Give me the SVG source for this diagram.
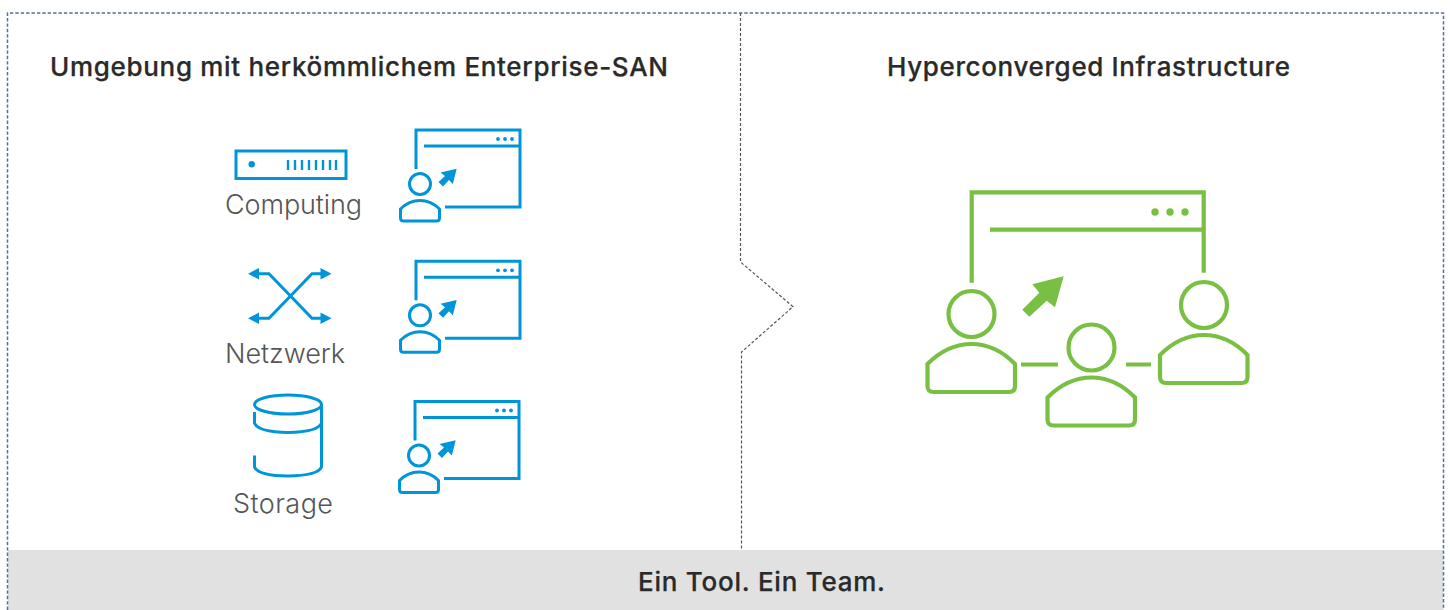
<svg xmlns="http://www.w3.org/2000/svg" width="1450" height="610" viewBox="0 0 1450 610">
<style>
.t{font-family:"Inter","Liberation Sans",sans-serif;font-weight:500;font-size:26px;fill:#2a2a2a;stroke:#2a2a2a;stroke-width:.25}
.l{font-family:"Inter","Liberation Sans",sans-serif;font-weight:300;font-size:27px;fill:#565656}
.b{fill:none;stroke:#0095d9;stroke-width:3}
.bf{fill:#0095d9}
.g{fill:none;stroke:#78bf43;stroke-width:4.200}
.gf{fill:#78bf43}
.f{fill:none;stroke:#4f6fa8;stroke-width:1.500;stroke-dasharray:3.400 2}
.d{fill:none;stroke:#555;stroke-width:1.200;stroke-dasharray:3 2}
</style>
<defs>
<g id="uw">
<path class="b" d="M416 169V130H520V207H445M424 146H520"/>
<circle class="bf" cx="498" cy="139" r="1.900"/><circle class="bf" cx="505" cy="139" r="1.900"/><circle class="bf" cx="512" cy="139" r="1.900"/>
<circle class="b" cx="420" cy="184" r="10.500"/>
<path class="b" d="M400.500 209Q409 200.500 420 200.500T439.500 209V218Q439.500 221 436.500 221H403.500Q400.500 221 400.500 218Z"/>
<polygon class="bf" points="456.700,168.700 452.800,184 449,180 443,186.500 438.500,182 445,176 440.500,172.500"/>
</g>
<g id="p">
<circle class="g" cx="44" cy="-30" r="23"/>
<path class="g" d="M0 20Q20 0 44 0T87.500 20V42Q87.500 48 81.500 48H6Q0 48 0 42Z"/>
</g>
</defs>
<rect x="8" y="550" width="1435" height="60" fill="#e1e1e1"/>
<g id="connectors">
<path class="f" d="M7.500 610V13H1443.500V610"/>
<path class="d" d="M740.500 13V262L793 306.700L741.500 352V550"/>
</g>
<g id="title-left"><text class="t" x="50" y="76" textLength="618">Umgebung mit herkömmlichem Enterprise-SAN</text></g>
<g id="title-right"><text class="t" x="887" y="76" textLength="403">Hyperconverged Infrastructure</text></g>
<g id="footer"><text class="t" x="638" y="591" textLength="247">Ein Tool. Ein Team.</text></g>
<g id="computing">
<rect class="b" x="236" y="151" width="110" height="27.500"/>
<circle class="bf" cx="251.700" cy="164.300" r="3.200"/>
<path class="b" d="M288 160V170M295 160V170M302 160V170M309 160V170M316 160V170M323 160V170M330 160V170M336 160V170" style="stroke-width:2.400"/>
<text class="l" x="225" y="214" textLength="137">Computing</text>
</g>
<g id="computing-user"><use href="#uw"/></g>
<g id="netzwerk">
<path class="b" d="M257 273.700H269L312 318.300H322M257 318.300H269L312 273.700H322"/>
<polygon class="bf" points="248,273.700 259,268 259,279.500"/><polygon class="bf" points="248,318.300 259,312.600 259,324"/>
<polygon class="bf" points="331.500,273.700 320.500,268 320.500,279.500"/><polygon class="bf" points="331.500,318.300 320.500,312.600 320.500,324"/>
<text class="l" x="225" y="363" textLength="120">Netzwerk</text>
</g>
<g id="netzwerk-user"><use href="#uw" y="131.300"/></g>
<g id="storage">
<ellipse class="b" cx="288" cy="404.500" rx="33.500" ry="9.500"/>
<path class="b" d="M254.500 412V423Q258 432 288 432.500Q318 432 321.500 423M321.500 404.500V467Q318 475.500 288 476Q258 475.500 254.500 467V455.500"/>
<text class="l" x="233" y="513" textLength="100">Storage</text>
</g>
<g id="storage-user"><use href="#uw" x="-1" y="271.500"/></g>
<g id="hci">
<path class="g" d="M971.700 282.700V192.300H1203.700V272.700M990 229.700H1203.700"/>
<circle class="gf" cx="1155" cy="212" r="3.700"/><circle class="gf" cx="1170" cy="212" r="3.700"/><circle class="gf" cx="1185" cy="212" r="3.700"/>
<polygon class="gf" points="1063.700,276.300 1055,307.300 1046.700,300.700 1029.300,316.700 1022.300,309.700 1039.300,292.700 1032.300,284.300"/>
<use href="#p" x="927.500" y="344"/>
<use href="#p" x="1047.500" y="377.500"/>
<use href="#p" x="1160" y="335"/>
<path class="g" d="M1021 364.500H1058M1126 364.500H1151"/>
</g>
</svg>
